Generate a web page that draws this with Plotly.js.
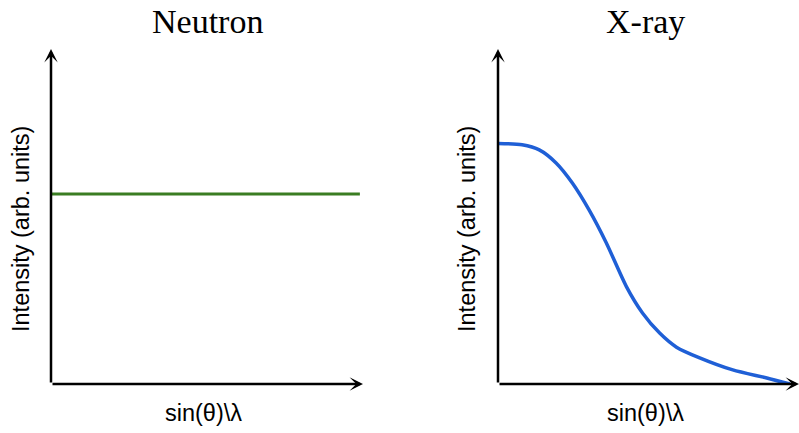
<!DOCTYPE html>
<html>
<head>
<meta charset="utf-8">
<script src="https://cdn.plot.ly/plotly-3.0.1.min.js"></script>
<style>html,body{margin:0;padding:0;background:#fff;}#chart{width:799px;height:433px;}</style>
</head>
<body>
<div id="chart"></div>
<script>
// Panel titles and axis labels
const panelTitles = ["Neutron", "X-ray"];
const yLabel = "Intensity (arb. units)";
const xLabel = "sin(θ)\\λ";

// Neutron: constant intensity
const neutronX = [0.0, 0.99];
const neutronY = [0.567, 0.567];

// X-ray: form-factor-like fall-off
const xrayX = [0.0, 0.08, 0.137, 0.193, 0.247, 0.303, 0.36, 0.427, 0.48, 0.537, 0.593, 0.67, 0.78, 0.893, 0.97];
const xrayY = [0.718, 0.714, 0.699, 0.660, 0.600, 0.519, 0.421, 0.290, 0.212, 0.152, 0.110, 0.078, 0.042, 0.018, 0.0];

const W = 799, H = 433;
const yDom = [1 - 384 / H, 1 - 49 / H];

const hiddenAxis = (dom, anchor) => ({
  domain: dom, range: [0, 1], anchor: anchor,
  showgrid: false, zeroline: false, showline: false,
  showticklabels: false, ticks: '', fixedrange: true
});

const traces = [
  {x: neutronX, y: neutronY, xaxis: 'x', yaxis: 'y', mode: 'lines',
   line: {color: '#3a7d22', width: 3}, hoverinfo: 'skip'},
  {x: xrayX, y: xrayY, xaxis: 'x2', yaxis: 'y2', mode: 'lines',
   line: {color: '#1f5fd6', width: 3.5, shape: 'spline', smoothing: 0.7}, hoverinfo: 'skip'}
];

function arrow(xr, yr, x, y, ax, ay) {
  return {xref: xr, yref: yr, axref: xr, ayref: yr, x: x, y: y, ax: ax, ay: ay,
    text: '', showarrow: true, arrowhead: 3, arrowsize: 0.9, arrowwidth: 2.5, arrowcolor: '#000'};
}
function label(txt, x, y, size, family, angle) {
  return {xref: 'paper', yref: 'paper', x: x / W, y: 1 - y / H, text: txt, showarrow: false,
    xanchor: 'center', yanchor: 'middle', textangle: angle || 0,
    font: {family: family, size: size, color: '#000'}};
}

const serif = 'Liberation Serif, Times New Roman, serif';
const sans = 'Liberation Sans, Arial, sans-serif';

const annotations = [
  arrow('x', 'y', 1, 0, 0, 0),
  arrow('x', 'y', 0, 1, 0, 0),
  arrow('x2', 'y2', 1, 0, 0, 0),
  arrow('x2', 'y2', 0, 1, 0, 0),
  label(panelTitles[0], 207, 22, 34, serif),
  label(panelTitles[1], 645, 22, 34, serif),
  label(yLabel, 21, 229, 23.5, sans, -90),
  label(yLabel, 467, 229, 23.5, sans, -90),
  label(xLabel, 204, 413, 23.5, sans),
  label(xLabel, 645, 413, 23.5, sans)
];

const layout = {
  width: W, height: H,
  margin: {l: 0, r: 0, t: 0, b: 0, pad: 0},
  paper_bgcolor: '#fff', plot_bgcolor: 'rgba(0,0,0,0)',
  showlegend: false,
  xaxis: hiddenAxis([51 / W, 363 / W], 'y'),
  yaxis: hiddenAxis(yDom, 'x'),
  xaxis2: hiddenAxis([498 / W, 1.0], 'y2'),
  yaxis2: hiddenAxis(yDom, 'x2'),
  annotations: annotations
};

Plotly.newPlot('chart', traces, layout, {staticPlot: true, displayModeBar: false});
</script>
</body>
</html>
